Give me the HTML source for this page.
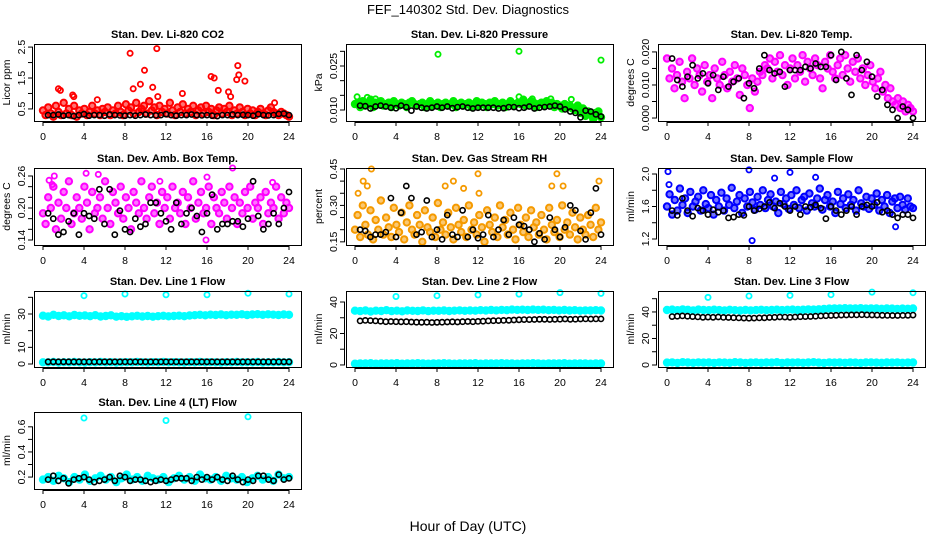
<!DOCTYPE html>
<html><head><meta charset="utf-8">
<style>
html,body{margin:0;padding:0;background:#fff;}
svg{display:block;font-family:"Liberation Sans",sans-serif;}
.t{font-weight:bold;font-size:11px;}
.tk{font-size:10.5px;}
</style></head>
<body>
<svg id="chart" width="936" height="540" viewBox="0 0 936 540">
<text x="468" y="14" text-anchor="middle" font-size="13">FEF_140302  Std. Dev. Diagnostics</text>
<text x="468" y="531" text-anchor="middle" font-size="14">Hour of Day (UTC)</text>
</svg>
<script>
// ---- data arrays ----
const xTicks = [0,4,8,12,16,20,24];
const co2Cloud = [0.45,0.3,0.55,0.35,0.25,0.6,0.4,0.3,0.7,0.35,0.5,0.3,0.6,0.25,0.45,0.35,0.5,0.3,0.4,0.6,0.35,0.45,0.3,0.5,0.4,0.55,0.3,0.45,0.35,0.6,0.4,0.3,0.65,0.45,0.55,0.35,0.7,0.4,0.5,0.6,0.35,0.75,0.45,0.55,0.3,0.6,0.4,0.5,0.35,0.7,0.45,0.3,0.55,0.4,0.65,0.35,0.5,0.4,0.6,0.3,0.45,0.55,0.35,0.6,0.4,0.5,0.3,0.45,0.55,0.35,0.5,0.4,0.6,0.3,0.45,0.35,0.55,0.4,0.3,0.5,0.35,0.45,0.3,0.4,0.5,0.35,0.3,0.45,0.55,0.4,0.35,0.3,0.4,0.35,0.3,0.25];
const co2Black = [0.3,0.3,0.32,0.28,0.3,0.27,0.3,0.33,0.28,0.3,0.3,0.28,0.32,0.3,0.29,0.28,0.3,0.28,0.3,0.32,0.3,0.29,0.3,0.33,0.3,0.28,0.3,0.3,0.32,0.3,0.29,0.3,0.28,0.27,0.3,0.3,0.32,0.3,0.31,0.3,0.28,0.33,0.3,0.29,0.3,0.34,0.35,0.3];
const co2OutH = [1.5,1.7,2.9,3.0,5.3,8.5,8.8,9.5,9.9,10.7,11.1,11.2,13.6,16.4,16.7,17.1,18.1,18.3,18.9,19.0,19.1,19.7,22.6];
const co2OutV = [1.15,1.1,0.95,0.9,0.8,2.3,1.15,1.3,1.75,1.2,2.45,0.9,1.0,1.55,1.5,1.1,1.05,0.9,1.45,1.9,1.6,1.4,0.7];

const presCloud = [0.012,0.0125,0.011,0.013,0.0115,0.012,0.0135,0.011,0.0125,0.012,0.013,0.0115,0.012,0.0125,0.011,0.013,0.012,0.0115,0.0125,0.012,0.011,0.0125,0.013,0.012,0.0115,0.012,0.0125,0.011,0.012,0.013,0.0115,0.012,0.0125,0.011,0.012,0.0125,0.0115,0.012,0.013,0.011,0.012,0.0125,0.0115,0.012,0.0125,0.011,0.012,0.013,0.0115,0.0125,0.012,0.011,0.0125,0.012,0.013,0.0115,0.012,0.0125,0.011,0.012,0.013,0.0115,0.012,0.0125,0.012,0.0135,0.0115,0.012,0.013,0.0125,0.011,0.012,0.0125,0.0115,0.013,0.012,0.0125,0.011,0.012,0.0115,0.0105,0.012,0.011,0.0115,0.0105,0.01,0.0115,0.009,0.0105,0.008,0.0095,0.0085,0.007,0.009,0.0095,0.0075];
const presBlack = [0.0115,0.0113,0.0105,0.0112,0.0115,0.0112,0.0108,0.0106,0.0115,0.011,0.0098,0.0112,0.0108,0.0105,0.0108,0.0112,0.0108,0.0112,0.0106,0.011,0.0112,0.0108,0.0105,0.0108,0.0108,0.0108,0.0108,0.0105,0.0106,0.011,0.011,0.0106,0.0108,0.0112,0.0105,0.0108,0.011,0.0112,0.0115,0.0112,0.0102,0.0095,0.009,0.0075,0.0098,0.0095,0.0085,0.0078];
const presOutH = [0.2,1.2,2.0,8.1,16.0,16.0,24.0,17.3,19.1,21.1];
const presOutV = [0.0145,0.0143,0.0138,0.029,0.030,0.0145,0.027,0.0138,0.0138,0.0136];

const tempCloud = [0.018,0.012,0.015,0.009,0.013,0.017,0.011,0.006,0.014,0.012,0.018,0.01,0.015,0.013,0.008,0.016,0.011,0.013,0.006,0.015,0.012,0.01,0.017,0.013,0.009,0.014,0.011,0.016,0.012,0.007,0.015,0.013,0.01,0.003,0.012,0.008,0.011,0.014,0.013,0.016,0.015,0.018,0.012,0.017,0.014,0.019,0.013,0.016,0.01,0.015,0.018,0.012,0.016,0.014,0.019,0.011,0.017,0.015,0.013,0.018,0.016,0.012,0.009,0.017,0.015,0.019,0.014,0.012,0.016,0.018,0.013,0.019,0.015,0.011,0.017,0.014,0.018,0.012,0.015,0.01,0.013,0.016,0.011,0.009,0.012,0.014,0.008,0.01,0.006,0.009,0.005,0.004,0.006,0.003,0.005,0.002,0.004,0.003,0.002];
const tempBlack = [0.018,0.0115,0.0095,0.0125,0.016,0.012,0.0135,0.0105,0.013,0.0085,0.0125,0.0095,0.011,0.012,0.006,0.0105,0.009,0.015,0.019,0.0145,0.0135,0.014,0.0095,0.0145,0.0145,0.0145,0.0155,0.015,0.0165,0.0155,0.0155,0.019,0.0115,0.02,0.012,0.007,0.019,0.0145,0.017,0.0125,0.0065,0.0085,0.004,0.0025,0.0,0.0035,0.0025,0.0];

const ambCloud = [0.19,0.17,0.22,0.2,0.24,0.16,0.21,0.18,0.23,0.2,0.25,0.17,0.19,0.22,0.2,0.18,0.24,0.21,0.16,0.23,0.19,0.2,0.22,0.18,0.25,0.2,0.17,0.23,0.21,0.19,0.24,0.18,0.22,0.2,0.16,0.23,0.21,0.19,0.25,0.2,0.18,0.22,0.24,0.19,0.21,0.17,0.23,0.2,0.22,0.18,0.24,0.2,0.21,0.19,0.23,0.17,0.22,0.2,0.25,0.18,0.21,0.23,0.19,0.2,0.24,0.17,0.22,0.2,0.19,0.23,0.21,0.18,0.24,0.2,0.22,0.17,0.21,0.19,0.23,0.2,0.24,0.18,0.21,0.2,0.22,0.17,0.23,0.19,0.21,0.2,0.24,0.18,0.22,0.19,0.21,0.2];
const ambBlack = [0.19,0.18,0.15,0.155,0.175,0.19,0.15,0.19,0.185,0.18,0.235,0.17,0.235,0.15,0.195,0.16,0.155,0.18,0.165,0.17,0.21,0.21,0.19,0.175,0.16,0.21,0.17,0.19,0.2,0.185,0.155,0.19,0.225,0.16,0.17,0.17,0.175,0.175,0.165,0.18,0.25,0.185,0.16,0.17,0.19,0.17,0.2,0.23];
const ambOutH = [0.6,0.9,1.1,4.2,5.4,11.4,16.0,18.5,22.4,15.9];
const ambOutV = [0.252,0.244,0.26,0.265,0.263,0.25,0.258,0.275,0.248,0.14];

const rhCloud = [0.2,0.26,0.17,0.3,0.22,0.18,0.28,0.16,0.24,0.2,0.32,0.18,0.25,0.21,0.17,0.29,0.22,0.19,0.27,0.16,0.23,0.3,0.2,0.18,0.26,0.22,0.15,0.28,0.21,0.19,0.25,0.17,0.31,0.2,0.23,0.18,0.27,0.21,0.16,0.29,0.22,0.19,0.24,0.17,0.3,0.2,0.23,0.18,0.26,0.21,0.15,0.28,0.22,0.19,0.25,0.17,0.3,0.21,0.24,0.18,0.27,0.2,0.16,0.29,0.22,0.19,0.25,0.17,0.28,0.21,0.23,0.18,0.26,0.2,0.16,0.29,0.22,0.19,0.24,0.17,0.3,0.2,0.23,0.18,0.27,0.21,0.16,0.25,0.2,0.18,0.26,0.22,0.17,0.29,0.2,0.23];
const rhBlack = [0.2,0.195,0.17,0.18,0.18,0.19,0.33,0.17,0.27,0.38,0.33,0.18,0.19,0.32,0.17,0.2,0.16,0.26,0.18,0.17,0.28,0.17,0.2,0.165,0.18,0.26,0.17,0.2,0.24,0.18,0.25,0.22,0.215,0.2,0.15,0.185,0.16,0.25,0.2,0.17,0.21,0.3,0.28,0.195,0.16,0.27,0.37,0.18];
const rhOutH = [0.8,1.6,1.2,8.8,9.6,12.0,12.1,19.7,19.2,20.3,23.8,0.3,10.6];
const rhOutV = [0.4,0.45,0.38,0.38,0.4,0.43,0.35,0.43,0.38,0.38,0.4,0.35,0.37];

const flowCloud = [1.6,1.75,1.5,1.68,1.55,1.82,1.62,1.7,1.52,1.78,1.6,1.66,1.72,1.55,1.8,1.63,1.58,1.74,1.5,1.68,1.6,1.77,1.55,1.7,1.62,1.83,1.58,1.66,1.74,1.52,1.7,1.6,1.78,1.65,1.56,1.72,1.62,1.8,1.58,1.68,1.75,1.6,1.66,1.52,1.78,1.63,1.7,1.57,1.74,1.62,1.8,1.58,1.68,1.72,1.55,1.76,1.64,1.6,1.7,1.82,1.56,1.68,1.74,1.6,1.66,1.52,1.78,1.63,1.7,1.58,1.75,1.62,1.68,1.55,1.8,1.64,1.6,1.72,1.57,1.7,1.62,1.76,1.55,1.68,1.6,1.74,1.52,1.66,1.7,1.58,1.72,1.62,1.56,1.7,1.6,1.58];
const flowBlack = [1.55,1.49,1.7,1.55,1.48,1.58,1.55,1.5,1.56,1.53,1.55,1.46,1.47,1.5,1.49,1.6,1.55,1.57,1.6,1.65,1.58,1.64,1.6,1.55,1.6,1.5,1.6,1.59,1.62,1.58,1.45,1.6,1.55,1.5,1.55,1.6,1.5,1.6,1.62,1.6,1.65,1.53,1.55,1.5,1.46,1.5,1.5,1.46];
const flowOutH = [0.1,8.0,8.3,12.0,10.5,14.5,22.3,0.2];
const flowOutV = [2.03,2.05,1.18,2.02,1.95,1.96,1.35,1.87];

const l1Band = [29,28.5,29.5,28.8,29.2,28.6,29.4,28.9,29.1,28.7,29.3,28.5,28.8,29.2,28.4,28.7,28.3,28.6,28.9,28.5,28.8,28.4,28.7,28.9,28.6,28.8,29,28.7,29.1,29.3,29.5,29.2,29.6,29.4,29.7,29.3,29.6,29.5,29.8,29.4,29.7,29.9,29.5,29.8,29.6,29.4,29.7,29.5];
const l1Low = [1,1,1.2,0.9,1.1,1,1.2,1,0.9,1.1,1,1.2,1,1.1,0.9,1,1.1,1,1.2,1,0.9,1.1,1,1.2,1,1.1,1,0.9,1.1,1,1.2,1,1.1,1,0.9,1.1,1,1.2,1,1.1,1,1.2,0.9,1.1,1,1.2,1,1.1];
const l1Black = [1.3,1.3,1.3,1.3,1.3,1.3,1.3,1.3,1.3,1.3,1.3,1.3,1.3,1.3,1.3,1.3,1.3,1.3,1.3,1.3,1.3,1.3,1.3,1.3,1.3,1.3,1.3,1.3,1.3,1.3,1.3,1.3,1.3,1.3,1.3,1.3,1.3,1.3,1.3,1.3,1.3,1.3,1.3,1.3,1.3,1.3,1.3,1.3];
const l1OutH = [4,8,12,16,20,24];
const l1OutV = [41,42,41.5,41.5,42.5,42];

const l2Band = [34.5,34.2,34.6,34,34.5,34.3,34.8,34.2,34.5,34.1,34.6,34.4,34.3,34.7,34.2,34.5,34.4,34.6,34.3,34.5,34.7,34.4,34.6,34.5,34.8,34.6,34.9,34.7,35,34.8,35.2,35,35.1,34.9,35.2,35,35.1,34.8,35,34.7,34.9,34.6,34.8,34.5,34.7,34.6,34.8,34.6];
const l2Low = [0.8,1,0.9,1.1,0.8,1,0.9,1,1.1,0.8,1,0.9,1.1,1,0.8,1,0.9,1.1,1,0.8,1,0.9,1,1.1,0.8,1,0.9,1,1.1,0.9,1,0.8,1,0.9,1.1,1,0.8,1,0.9,1,1.1,0.8,1,0.9,1,0.8,1,0.9];
const l2Black = [28,28.3,28.2,28,27.8,27.5,27.6,27.5,27.4,27.5,27.3,27.2,27.1,27.2,27,27.1,27.2,27.3,27.4,27.3,27.5,27.6,27.5,27.7,27.8,28,28.1,28.2,28.3,28.4,28.6,28.7,28.8,28.8,28.9,29,29,28.9,29,29.1,29.2,29,29.1,29.2,29.3,29.2,29.3,29.3];
const l2OutH = [4,8,12,16,20,24];
const l2OutV = [43.5,44,44.5,45,46,45.5];

const l3Band = [41.5,41.8,41.3,41.9,41.6,41.2,41.8,41.5,41.3,41.7,41.4,41.2,41.6,41.3,41.1,41.5,41.2,41.4,41.6,41.3,41.5,41.7,41.4,41.6,41.8,41.5,41.7,41.9,41.8,42,42.2,42.5,42.7,42.6,42.8,42.7,42.6,42.8,42.5,42.7,42.6,42.4,42.6,42.5,42.3,42.5,42.4,42.6];
const l3Low = [1.8,2,1.6,2.1,1.9,1.7,2,1.8,1.9,1.6,2,1.8,1.7,2.1,1.9,1.6,1.8,2,1.7,1.9,1.8,2.1,1.6,1.9,1.8,2,1.7,1.9,2.1,1.8,1.6,2,1.8,1.9,1.7,2,1.8,1.6,1.9,2,1.8,1.7,1.9,1.8,2,1.7,1.8,1.9];
const l3Black = [36.5,36.8,37,36.8,36.5,36.3,36,36.1,36,36.2,35.9,35.8,35.7,35.5,35.4,35.3,35.4,35.5,35.6,35.8,36,36.2,36.1,36,36.2,36.4,36.5,36.6,36.8,37,37.2,37.3,37.5,37.6,37.7,37.8,37.8,37.9,37.8,37.7,37.6,37.5,37.4,37.3,37.3,37.4,37.5,37.6];
const l3OutH = [4,8,12,16,20,24];
const l3OutV = [51,52,52.5,53,55,54.5];

const l4Band = [0.18,0.2,0.17,0.21,0.19,0.16,0.2,0.18,0.22,0.17,0.19,0.21,0.18,0.2,0.16,0.19,0.22,0.18,0.2,0.17,0.21,0.19,0.18,0.2,0.16,0.19,0.21,0.18,0.2,0.17,0.22,0.19,0.18,0.2,0.17,0.21,0.19,0.18,0.2,0.16,0.19,0.21,0.18,0.2,0.17,0.22,0.19,0.2];
const l4Black = [0.18,0.21,0.17,0.19,0.15,0.18,0.19,0.2,0.18,0.16,0.17,0.18,0.2,0.17,0.21,0.2,0.17,0.18,0.18,0.17,0.16,0.17,0.18,0.17,0.18,0.19,0.19,0.19,0.17,0.2,0.18,0.2,0.18,0.2,0.18,0.17,0.21,0.18,0.16,0.18,0.17,0.21,0.21,0.18,0.17,0.22,0.18,0.19];
const l4OutH = [4,12,20];
const l4OutV = [0.67,0.65,0.68];

// ---- layout (not data) ----
const colX = [34,346,658];
const rowY = [[44,121],[168,245],[291,367],[412,489]];
const NS = 'http://www.w3.org/2000/svg';
const svg = document.getElementById('chart');
function mk(tag, attrs, parent){const e=document.createElementNS(NS,tag);for(const k in attrs)e.setAttribute(k,attrs[k]);(parent||svg).appendChild(e);return e;}

const panels = [
 {key:'co2',title:'Stan. Dev. Li-820 CO2',ylab:'Licor ppm',c:0,r:0,yl:[0.11,2.6],ticks:[0.5,1,1.5,2,2.5],labs:['0.5','','1.5','','2.5'],col:'#ff0000',
  series:[[co2Cloud,0],[co2Black,1]],outH:co2OutH,outV:co2OutV,band:false},
 {key:'pressure',title:'Stan. Dev. Li-820 Pressure',ylab:'kPa',c:1,r:0,yl:[0.00625,0.0325],ticks:[0.01,0.015,0.02,0.025,0.03],labs:['0.010','','','0.025',''],col:'#00ee00',
  series:[[presCloud,0],[presBlack,1]],outH:presOutH,outV:presOutV,band:true},
 {key:'temp',title:'Stan. Dev. Li-820 Temp.',ylab:'degrees C',c:2,r:0,yl:[-0.0009,0.0224],ticks:[0,0.005,0.01,0.015,0.02],labs:['0.000','','0.010','','0.020'],col:'#ff00ff',
  series:[[tempCloud,0],[tempBlack,1]],outH:[],outV:[],band:false},
 {key:'ambtemp',title:'Stan. Dev. Amb. Box Temp.',ylab:'degrees C',c:0,r:1,yl:[0.1306,0.275],ticks:[0.14,0.16,0.18,0.2,0.22,0.24,0.26],labs:['0.14','','','0.20','','','0.26'],col:'#ff00ff',
  series:[[ambCloud,0],[ambBlack,1]],outH:ambOutH,outV:ambOutV,band:false},
 {key:'rh',title:'Stan. Dev. Gas Stream RH',ylab:'percent',c:1,r:1,yl:[0.137,0.454],ticks:[0.15,0.2,0.25,0.3,0.35,0.4,0.45],labs:['0.15','','','0.30','','','0.45'],col:'#f59a00',
  series:[[rhCloud,0],[rhBlack,1]],outH:rhOutH,outV:rhOutV,band:false},
 {key:'sampleflow',title:'Stan. Dev. Sample Flow',ylab:'ml/min',c:2,r:1,yl:[1.126,2.074],ticks:[1.2,1.4,1.6,1.8,2.0],labs:['1.2','','1.6','','2.0'],col:'#0000ff',
  series:[[flowCloud,0],[flowBlack,1]],outH:flowOutH,outV:flowOutV,band:false},
 {key:'line1',title:'Stan. Dev. Line 1 Flow',ylab:'ml/min',c:0,r:2,yl:[-1.8,43.8],ticks:[0,10,20,30,40],labs:['0','10','','30',''],col:'#00ffff',
  series:[[l1Band,0],[l1Low,0],[l1Black,1]],outH:l1OutH,outV:l1OutV,band:true},
 {key:'line2',title:'Stan. Dev. Line 2 Flow',ylab:'ml/min',c:1,r:2,yl:[-1.3,47],ticks:[0,10,20,30,40],labs:['0','','20','','40'],col:'#00ffff',
  series:[[l2Band,0],[l2Low,0],[l2Black,1]],outH:l2OutH,outV:l2OutV,band:true},
 {key:'line3',title:'Stan. Dev. Line 3 Flow',ylab:'ml/min',c:2,r:2,yl:[-1.5,55.8],ticks:[0,10,20,30,40,50],labs:['0','','20','','40',''],col:'#00ffff',
  series:[[l3Band,0],[l3Low,0],[l3Black,1]],outH:l3OutH,outV:l3OutV,band:true},
 {key:'line4',title:'Stan. Dev. Line 4 (LT) Flow',ylab:'ml/min',c:0,r:3,yl:[0.105,0.718],ticks:[0.2,0.3,0.4,0.5,0.6],labs:['0.2','','0.4','','0.6'],col:'#00ffff',
  series:[[l4Band,0],[l4Black,1]],outH:l4OutH,outV:l4OutV,band:true}
];

panels.forEach(p=>{
  const L=colX[p.c], R=L+267, T=rowY[p.r][0], B=rowY[p.r][1];
  const xs = h => L+9 + h*(246/24);
  const ys = v => B - (v-p.yl[0])/(p.yl[1]-p.yl[0])*(B-T);
  const g = mk('g',{});
  
  
  const ttl = mk('text',{x:(L+R)/2,y:T-6,'text-anchor':'middle',class:'t'},g);
  ttl.textContent = p.title;
  
  
  const clip = mk('g',{},g);
  
  
  p.series.forEach(([vals,isBlack])=>{
    const n = vals.length;
    vals.forEach((v,i)=>{
      const h = isBlack ? 0.5 + i*23.5/(n-1) : i*24/(n-1);
      let attrs;
      if(isBlack) attrs={r:2.6,fill:'none',stroke:'#000','stroke-width':1.6};
      else if(p.band) attrs={r:3.4,fill:p.col,stroke:p.col,'stroke-width':1.6};
      else attrs={r:3.2,fill:p.col,'fill-opacity':0.55,stroke:p.col,'stroke-width':2};
      attrs.cx=xs(h).toFixed(1); attrs.cy=ys(v).toFixed(1);
      const c = mk('circle',attrs,clip);
      
      
    });
  });
  p.outH.forEach((h,i)=>{
    const c = mk('circle',{cx:xs(h).toFixed(1),cy:ys(p.outV[i]).toFixed(1),r:2.6,fill:'none',stroke:p.col,'stroke-width':1.8},clip);
    
    
  });
  const box = mk('rect',{x:L+0.5,y:T+0.5,width:R-L,height:B-T,fill:'none',stroke:'#000','stroke-width':1},g);
  
  
  const xa = mk('g',{},g);
  
  
  mk('line',{x1:xs(0),x2:xs(24),y1:B+1.5,y2:B+1.5,stroke:'#000'},xa);
  xTicks.forEach(t=>{
    mk('line',{x1:xs(t),x2:xs(t),y1:B+1,y2:B+5,stroke:'#000'},xa);
    const tx = mk('text',{x:xs(t),y:B+19,'text-anchor':'middle',class:'tk'},xa);
    tx.textContent = t;
    
    
  });
  const ya = mk('g',{},g);
  
  
  mk('line',{x1:L-1.5,x2:L-1.5,y1:ys(p.ticks[0]),y2:ys(p.ticks[p.ticks.length-1]),stroke:'#000'},ya);
  p.ticks.forEach((t,i)=>{
    const y = ys(t);
    mk('line',{x1:L-6,x2:L-1,y1:y,y2:y,stroke:'#000'},ya);
    if(p.labs[i]){
      const tx = mk('text',{x:L-9,y:y,'text-anchor':'middle',class:'tk',transform:`rotate(-90 ${L-9} ${y})`},ya);
      tx.textContent = p.labs[i];
      
      
    }
  });
  const yt = mk('text',{x:L-24,y:(T+B)/2,'text-anchor':'middle','font-size':'10.5',transform:`rotate(-90 ${L-24} ${(T+B)/2})`},g);
  yt.textContent = p.ylab;
  
  
});
</script>
</body></html>
